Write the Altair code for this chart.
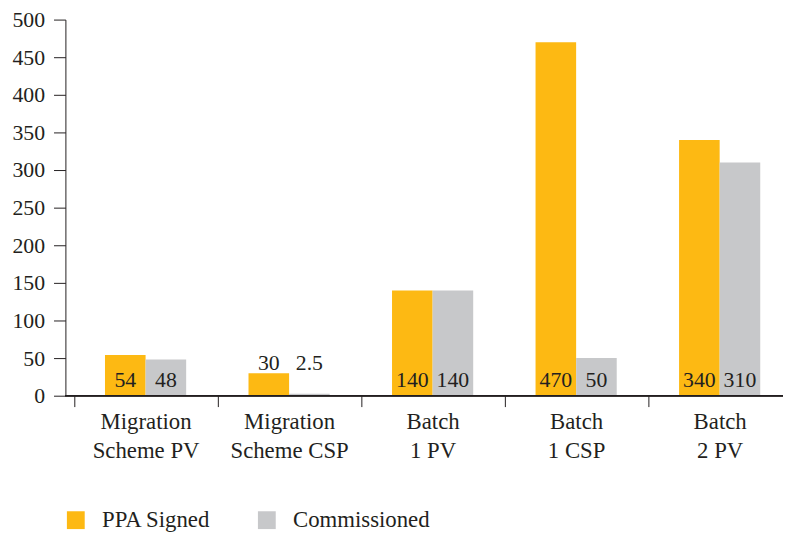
import json
import altair as alt
import pandas as pd

categories = ["Migration Scheme PV", "Migration Scheme CSP", "Batch 1 PV", "Batch 1 CSP", "Batch 2 PV"]
series = ["PPA Signed", "Commissioned"]
ppa_signed = [54, 30, 140, 470, 340]
commissioned = [48, 2.5, 140, 50, 310]
labels_above = ["Migration Scheme CSP"]
y_ticks = [0, 50, 100, 150, 200, 250, 300, 350, 400, 450, 500]
colors = ["#FDB913", "#C7C8CA"]

rows = []
for c, a, b in zip(categories, ppa_signed, commissioned):
    rows.append({"category": c, "series": series[0], "value": a, "label": f"{a:g}"})
    rows.append({"category": c, "series": series[1], "value": b, "label": f"{b:g}"})
df = pd.DataFrame(rows)

FONT = "Liberation Serif"
TXT = "#231F20"

x_enc = alt.X("category:N", sort=categories,
              scale=alt.Scale(range=[8.5, 733.5], paddingInner=0, paddingOuter=0),
              axis=alt.Axis(title=None, labelAngle=0, domain=False, tickBand="extent",
                            tickSize=11, tickColor=TXT, labelPadding=4,
                            labelLineHeight=29, labelFont=FONT, labelFontSize=23,
                            labelColor=TXT,
                            labelExpr="split(replace(datum.label, ' ', '|'), '|')"))
xo_enc = alt.XOffset("series:N", sort=series,
                     scale=alt.Scale(paddingInner=0, paddingOuter=0.768))

base = alt.Chart(df).encode(x=x_enc, xOffset=xo_enc)

y_scale = alt.Scale(domain=[0, 500], nice=False)
y_axis = alt.Axis(title=None, values=y_ticks, tickCount=len(y_ticks) + 1, grid=False,
                  tickSize=12, tickColor=TXT, domainColor=TXT, labelPadding=9,
                  labelOverlap=False, labelBound=False, labelFlush=False,
                  labelFont=FONT, labelFontSize=22, labelColor=TXT)

bars = base.mark_bar().encode(
    y=alt.Y("value:Q", scale=y_scale, axis=y_axis),
    color=alt.Color("series:N", sort=series,
                    scale=alt.Scale(domain=series, range=colors),
                    legend=alt.Legend(title=None, orient="none", legendX=-1, legendY=494,
                                      direction="horizontal", symbolType="square",
                                      symbolSize=324, symbolStrokeWidth=0,
                                      labelFont=FONT, labelFontSize=23, labelColor=TXT,
                                      labelOffset=15, columnPadding=45)),
)

above_list = json.dumps(labels_above)
inside = base.transform_filter(f"indexof({above_list}, datum.category) < 0").mark_text(
    font=FONT, fontSize=22, color=TXT, baseline="alphabetic", dy=-9
).encode(y=alt.YDatum(0, scale=y_scale, axis=y_axis), text="label:N")

above = base.transform_filter(f"indexof({above_list}, datum.category) >= 0").transform_joinaggregate(
    top="max(value)", groupby=["category"]
).mark_text(
    font=FONT, fontSize=22, color=TXT, baseline="alphabetic", dy=-3
).encode(y=alt.Y("top:Q", scale=y_scale, axis=y_axis), text="label:N")

axis_line = alt.Chart(df).mark_rule(color=TXT, strokeWidth=1).encode(
    y=alt.YDatum(0, scale=y_scale, axis=y_axis))

chart = alt.layer(bars, inside, above, axis_line).properties(
    width=725, height=380,
    autosize=alt.AutoSizeParams(type="none"),
    padding={"left": 58, "top": 9, "right": 0, "bottom": 136},
).configure_view(stroke=None)

chart.save("out.html", embed_options={"renderer": "svg", "actions": False})
